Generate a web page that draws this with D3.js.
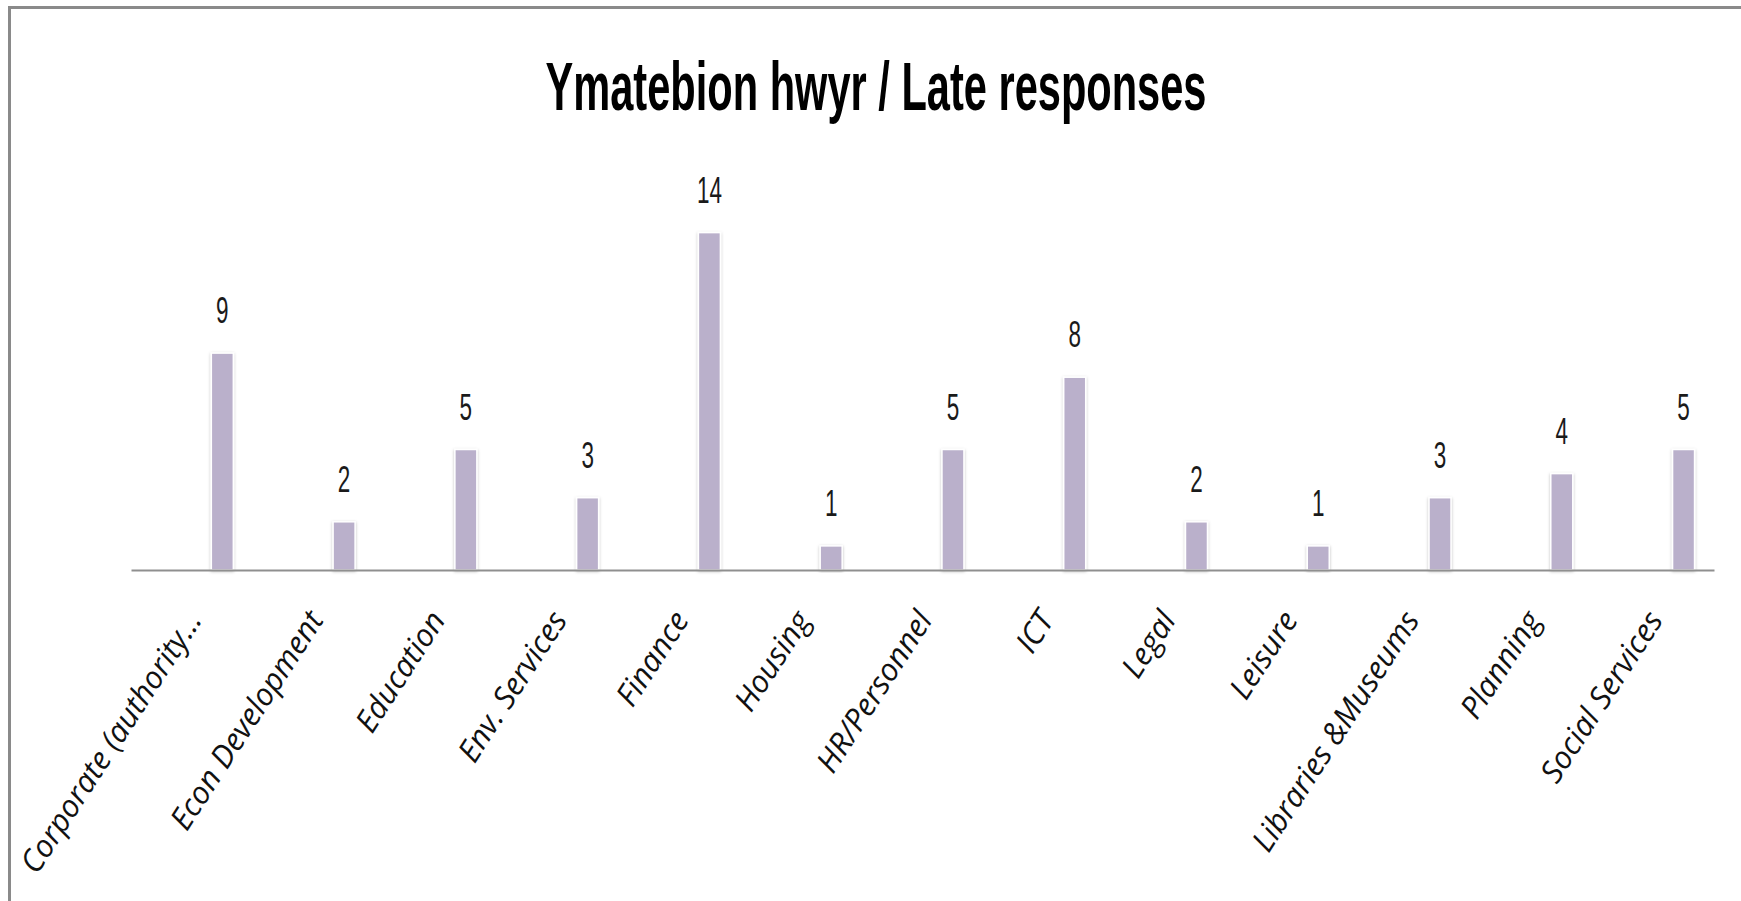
<!DOCTYPE html>
<html>
<head>
<meta charset="utf-8">
<script src="https://cdn.jsdelivr.net/npm/d3@7"></script>
<style>
  html, body { margin: 0; padding: 0; background: #fff; overflow: hidden; }
  svg { display: block; }
</style>
</head>
<body>
<svg id="chart" width="1741" height="901"></svg>
<script>
const categories = ["Corporate (authority\u2026", "Econ Development", "Education", "Env. Services", "Finance", "Housing", "HR/Personnel", "ICT", "Legal", "Leisure", "Libraries &Museums", "Planning", "Social Services"];
const values = [9, 2, 5, 3, 14, 1, 5, 8, 2, 1, 3, 4, 5];
const titleText = "Ymatebion hwyr / Late responses";

const svg = d3.select("#chart");
const W = 1741, H = 901;

// outer chart border
svg.append("rect")
  .attr("x", 9.5).attr("y", 7.5)
  .attr("width", W + 20).attr("height", H + 20)
  .attr("fill", "#fff")
  .attr("stroke", "#8a8a8a").attr("stroke-width", 3);

const x = d3.scaleBand().domain(categories).range([131, 1714]).padding(0);
const y = d3.scaleLinear().domain([0, 16]).range([570, 570 - 16 * 24.1]);
const barW = 22;
const barCx = d => x(d) + x.bandwidth() * 0.75;

// shadow filter
const defs = svg.append("defs");
const f = defs.append("filter").attr("id", "sh").attr("x", "-50%").attr("y", "-10%").attr("width", "200%").attr("height", "120%");
f.append("feDropShadow").attr("dx", 0).attr("dy", 1).attr("stdDeviation", 1.5).attr("flood-color", "#000").attr("flood-opacity", 0.25);

const data = categories.map((c, i) => ({ c, v: values[i] }));

svg.append("g").selectAll("rect")
  .data(data).join("rect")
  .attr("x", d => barCx(d.c) - barW / 2)
  .attr("y", d => y(d.v))
  .attr("width", barW)
  .attr("height", d => y(0) - y(d.v))
  .attr("fill", "#BAB0CB")
  .attr("stroke", "#ffffff").attr("stroke-width", 1.5)
  .attr("filter", "url(#sh)");

// axis line
const axis = d3.axisBottom(x).tickSize(0).tickFormat("");
const gx = svg.append("g").attr("transform", `translate(0,${y(0)})`).call(axis);
gx.select(".domain").attr("stroke", "#8f8f8f").attr("stroke-width", 2);

// value labels
svg.append("g").selectAll("text")
  .data(data).join("text")
  .attr("x", d => barCx(d.c))
  .attr("y", d => y(d.v) - 30)
  .attr("text-anchor", "middle")
  .attr("font-family", "Liberation Sans, Arial, sans-serif")
  .attr("font-size", 36)
  .attr("fill", "#1a1a1a")
  .attr("textLength", d => String(d.v).length * 12.5)
  .attr("lengthAdjust", "spacingAndGlyphs")
  .text(d => d.v);

// category labels
svg.append("g").selectAll("text")
  .data(data).join("text")
  .attr("transform", d => `translate(${x(d.c) + x.bandwidth() / 2 + 11},${620}) rotate(-57)`)
  .attr("text-anchor", "end")
  .attr("font-family", "Open Sans, Liberation Sans, sans-serif")
  .attr("font-style", "italic")
  .attr("font-size", 31)
  .attr("fill", "#111")
  .text(d => d.c);

// title
svg.append("text")
  .attr("x", 876).attr("y", 110)
  .attr("text-anchor", "middle")
  .attr("font-family", "Liberation Sans, Arial, sans-serif")
  .attr("font-weight", "bold")
  .attr("font-size", 68)
  .attr("fill", "#000")
  .attr("textLength", 661)
  .attr("lengthAdjust", "spacingAndGlyphs")
  .text(titleText);
</script>
</body>
</html>
